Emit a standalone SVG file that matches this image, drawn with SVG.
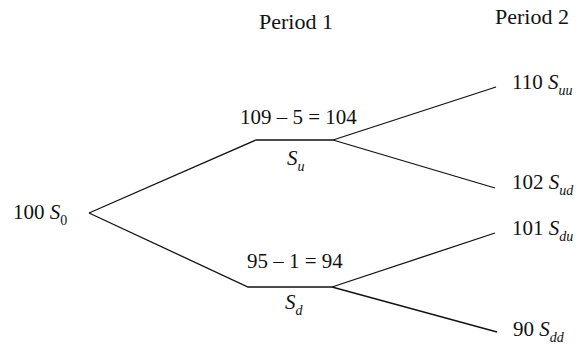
<svg xmlns="http://www.w3.org/2000/svg" width="580" height="348" viewBox="0 0 580 348" font-family="'Liberation Serif', 'Times New Roman', 'DejaVu Serif', serif">
<style>
text{font-family:"Liberation Serif","Times New Roman",serif;font-size:21px;fill:#111}
.h{font-size:22px}
.v{font-style:italic}
.s{font-style:italic;font-size:14px}
.c{fill:none;stroke:#111;stroke-width:1.3}
</style>
<rect width="580" height="348" fill="#fff"/>
<g id="connectors">
<path class="c" d="M89,213 L256,140 L333,140"/>
<path class="c" d="M89,213 L248,287 L332,287"/>
<path class="c" d="M333,140 L496,87"/>
<path class="c" d="M333,140 L495,188"/>
<path class="c" d="M332,287 L495,233"/>
<path class="c" d="M332,287 L497,332"/>
</g>
<g id="headers">
<text class="h" x="259" y="29">Period 1</text>
<text class="h" x="495" y="24">Period 2</text>
</g>
<g id="n0"><text x="13" y="219">100 <tspan class="v">S</tspan><tspan font-size="14px" dy="6">0</tspan></text></g>
<g id="nu">
<text x="240" y="124">109 – 5 = 104</text>
<text x="287" y="165" class="v">S<tspan class="s" dy="6">u</tspan></text>
</g>
<g id="nd">
<text x="247" y="268">95 – 1 = 94</text>
<text x="285" y="309" class="v">S<tspan class="s" dy="6">d</tspan></text>
</g>
<g id="nuu"><text x="512" y="89">110 <tspan class="v">S</tspan><tspan class="s" dy="6">uu</tspan></text></g>
<g id="nud"><text x="512" y="189">102 <tspan class="v">S</tspan><tspan class="s" dy="6">ud</tspan></text></g>
<g id="ndu"><text x="512" y="235">101 <tspan class="v">S</tspan><tspan class="s" dy="6">du</tspan></text></g>
<g id="ndd"><text x="513" y="336">90 <tspan class="v">S</tspan><tspan class="s" dy="6">dd</tspan></text></g>
</svg>
